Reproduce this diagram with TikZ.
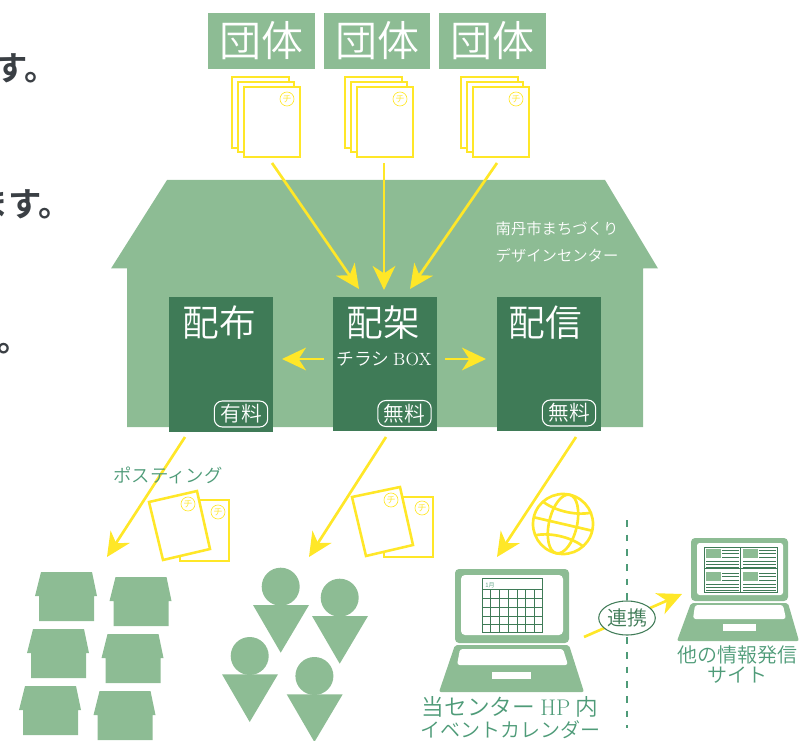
\documentclass[tikz,border=0pt]{standalone}
\usepackage{fontspec}
\usetikzlibrary{arrows.meta,shapes.geometric}
\newfontfamily\jpfont{Noto Sans CJK JP}[UprightFont=* DemiLight]
\newfontfamily\jpbold{Noto Sans CJK JP}[UprightFont=* Bold]
\definecolor{housegreen}{RGB}{141,188,148}
\definecolor{darkgreen}{RGB}{63,123,87}
\definecolor{textgreen}{RGB}{78,155,120}
\definecolor{flyeryellow}{RGB}{255,231,40}
\definecolor{inkgray}{RGB}{58,63,68}
\newcommand{\jpsize}[1]{\jpfont\fontsize{#1}{#1}\selectfont}
\tikzset{every picture/.style={line width=0.75pt},
  tagbox/.style={fill=housegreen,text=white,minimum width=80pt,minimum height=42pt,inner sep=0pt,font=\jpsize{31.5}},
  darkbox/.style={fill=darkgreen,minimum width=78pt,minimum height=101pt,inner sep=0pt},
  boxtitle/.style={text=white,inner sep=0pt,font=\jpsize{27.5}},
  pricetag/.style={draw=white,text=white,rounded corners=6pt,line width=0.8pt,minimum width=40pt,minimum height=19.5pt,inner sep=0pt,font=\jpsize{15.5}},
  yarrow/.style={draw=flyeryellow,line width=2pt,-{Stealth[length=18pt,width=17pt,inset=5.5pt]}},
  paper/.style={draw=flyeryellow,line width=1.9pt,fill=white},
  chimark/.style={circle,draw=flyeryellow,text=flyeryellow,line width=0.5pt,minimum size=10.5pt,inner sep=0pt,font=\jpsize{7}},
  greentext/.style={text=textgreen,inner sep=0pt,font=\jpsize{15}},
  lefttext/.style={text=inkgray,inner sep=0pt,font=\jpbold\fontsize{25}{25}\selectfont}}

\begin{document}
\begin{tikzpicture}[x=0.75pt,y=0.75pt,yscale=-1,xscale=1]
\useasboundingbox (0,0) rectangle (799,741);

% Text Node
\node (lineA) [lefttext,anchor=base west] at (-6,81) {す。};
\node (lineB) [lefttext,anchor=base west] at (-25,217) {ます。};
\node (lineC) [lefttext,anchor=base west] at (-3,351) {。};

%Shape: House
\fill [housegreen] (167,180) -- (605,180) -- (658,268.5) -- (643,268.5) -- (643,427) -- (127,427) -- (127,268.5) -- (111,268.5) -- cycle ;

% Text Node
\node (centerA) [text=white,inner sep=0pt,font=\jpsize{11.5}] at (557,229) {南丹市まちづくり};
\node (centerB) [text=white,inner sep=0pt,font=\jpsize{11.5}] at (557,255) {デザインセンター};

%Shape: Group boxes
\node (groupA) [tagbox] at (261.5,41) {団体};
\node (groupB) [tagbox] at (377,41) {団体};
\node (groupC) [tagbox] at (492.5,41) {団体};

%Shape: Flyer stacks
\foreach \px/\nm in {232/A,345/B,461/C}{
  \draw [paper] (\px,77) rectangle (\px+57,148);
  \draw [paper] (\px+6,82) rectangle (\px+62,152);
  \draw [paper] (\px+12,87) rectangle (\px+68,157);
  \node (chi\nm) [chimark] at (\px+55,99) {チ};
}

%Shape: Service boxes
\node (haifu) [darkbox] at (221,364.5) {};
\node (haika) [darkbox] at (384.5,364) {};
\node (haishin) [darkbox] at (548.5,364) {};
\node (haifuT) [boxtitle] at (219.5,323) {配布};
\node (haikaT) [boxtitle] at (383.5,323) {配架};
\node (haishinT) [boxtitle] at (545,323) {配信};
\node (boxT) [text=white,inner sep=0pt,font=\jpsize{13.3}] at (384,359) {チラシ {\rmfamily BOX}};
\node (priceA) [pricetag] at (241,414) {有料};
\node (priceB) [pricetag] at (404.5,413.5) {無料};
\node (priceC) [pricetag] at (569,413) {無料};

%Straight Lines
\coordinate (fromA) at (272,163);
\coordinate (fromB) at (384,163);
\coordinate (fromC) at (497,163);
\coordinate (toA) at (359,289);
\coordinate (toB) at (384,290);
\coordinate (toC) at (410,289);
\draw [yarrow] (fromA) -- (toA);
\draw [yarrow] (fromB) -- (toB);
\draw [yarrow] (fromC) -- (toC);
\coordinate (sideL) at (324,359);
\coordinate (sideLend) at (282,359);
\coordinate (sideR) at (445,359);
\coordinate (sideRend) at (486,359);
\draw [yarrow] (sideL) -- (sideLend);
\draw [yarrow] (sideR) -- (sideRend);
\coordinate (downA) at (185,437);
\coordinate (downB) at (386,437);
\coordinate (downC) at (576,437);
\coordinate (homes) at (107,557);
\coordinate (people) at (309,557);
\coordinate (laptop) at (497,557);
\draw [yarrow] (downA) -- (homes);
\draw [yarrow] (downB) -- (people);
\draw [yarrow] (downC) -- (laptop);

% Text Node
\node (posting) [greentext,font=\jpsize{13.8}] at (168,475) {ポスティング};

%Shape: Loose flyers
\draw [paper] (180,500) rectangle (229,561);
\draw [paper] (149,502) -- (197,491) -- (210,549) -- (163,560) -- cycle ;
\node (chiD) [chimark] at (188,504) {チ};
\node (chiE) [chimark] at (218,512) {チ};
\draw [paper] (384,497) rectangle (433,557);
\draw [paper] (352,497) -- (400,487) -- (413,545) -- (366,556) -- cycle ;
\node (chiF) [chimark] at (391,500) {チ};
\node (chiG) [chimark] at (422,508) {チ};

%Shape: Globe
\begin{scope}[shift={(563,524)},rotate=13]
\draw [flyeryellow,line width=2pt] (0,0) circle [radius=30];
\draw [flyeryellow,line width=2pt] (0,0) ellipse [x radius=14,y radius=30];
\draw [flyeryellow,line width=2pt] (-30,0) -- (30,0);
\draw [flyeryellow,line width=2pt] (-24,-17) .. controls (-10,-11) and (10,-11) .. (24,-17);
\draw [flyeryellow,line width=2pt] (-24,17) .. controls (-10,11) and (10,11) .. (24,17);
\end{scope}

%Shape: Homes
\foreach \hx/\hy in {0/0,74.5/5,-8/57,66.5/62,-16/114,58.5/119}{
  \fill [housegreen,shift={(\hx,\hy)}] (41,572) -- (92,572) -- (97,596) -- (94,596) -- (94,621) -- (39,621) -- (39,596) -- (35,596) -- cycle ;
}

%Shape: People
\foreach \hx/\hy in {0/0,59/11,-31/69.3,33.7/89.3}{
  \fill [housegreen,shift={(\hx,\hy)}] (280.7,586.7) circle [radius=19];
  \fill [housegreen,shift={(\hx,\hy)}] (253,605) -- (309,605) -- (280.7,652.7) -- cycle ;
}

%Shape: Laptop with calendar
\fill [housegreen,rounded corners=3pt] (455,569) rectangle (569,643);
\fill [white,rounded corners=3pt] (461,575) rectangle (563,635);
\fill [housegreen,rounded corners=1.5pt] (455,645) -- (569,645) -- (584,692) -- (439,692) -- cycle ;
\fill [white,rounded corners=2pt] (460,649) -- (563,649) -- (568,665) -- (457,665) -- cycle ;
\fill [white] (492,672) rectangle (531,679);
\draw [darkgreen,line width=0.5pt] (482,578) rectangle (542,632);
\draw [darkgreen,line width=0.5pt] (482,589) -- (542,589);
\foreach \gx in {490.5,499.5,508,517,525.5,534}{
  \draw [darkgreen,line width=0.4pt] (\gx,589) -- (\gx,632);
}
\foreach \gy in {598,607,616,624}{
  \draw [darkgreen,line width=0.4pt] (482,\gy) -- (542,\gy);
}
\node (month) [text=textgreen,inner sep=0pt,font=\jpsize{4.5}] at (490,585) {1月};

% Text Node
\node (calA) [greentext,font=\jpsize{17}] at (510,707) {当センター {\rmfamily HP} 内};
\node (calB) [greentext] at (510,730) {イベントカレンダー};

%Shape: Other laptop
\fill [housegreen,rounded corners=3pt] (691,538) rectangle (788,601);
\fill [white,rounded corners=2pt] (697,543) rectangle (783,595);
\fill [housegreen,rounded corners=1.5pt] (691,603) -- (788,603) -- (799,641) -- (677,641) -- cycle ;
\fill [white,rounded corners=2pt] (695,605) -- (783,605) -- (786,619) -- (693,619) -- cycle ;
\fill [white] (723,624) rectangle (756,631);
\draw [darkgreen,line width=0.4pt] (704,547) rectangle (777,592);
\draw [darkgreen,line width=0.4pt] (740.5,547) -- (740.5,592);
\draw [darkgreen,line width=0.4pt] (704,568.5) -- (777,568.5);
\foreach \cx/\cy in {704/547,741/547,704/570,741/570}{
  \begin{scope}[shift={(\cx,\cy)}]
  \fill [housegreen] (2,2) rectangle (17,11);
  \foreach \ly in {3,6.5,10}{
    \draw [darkgreen,line width=0.3pt] (18,\ly) -- (35,\ly);
  }
  \foreach \ly in {14,17,20}{
    \draw [darkgreen,line width=0.3pt] (2,\ly) -- (35,\ly);
  }
  \end{scope}
}

% Text Node
\node (otherA) [greentext] at (737,655) {他の情報発信};
\node (otherB) [greentext] at (737,675) {サイト};

%Straight Lines
\coordinate (dashTop) at (627,520);
\coordinate (dashEnd) at (627,728);
\draw [textgreen,line width=1.2pt,dash pattern={on 5pt off 6pt}] (dashTop) -- (dashEnd);
\coordinate (linkFrom) at (584,637);
\coordinate (linkTo) at (682,594);
\draw [yarrow] (linkFrom) -- (linkTo);
\node (renkei) [ellipse,draw=darkgreen,fill=white,text=darkgreen,line width=0.8pt,minimum width=41pt,minimum height=25.5pt,inner sep=0pt,font=\jpsize{15}] at (627,618) {連携};

\end{tikzpicture}
\end{document}
